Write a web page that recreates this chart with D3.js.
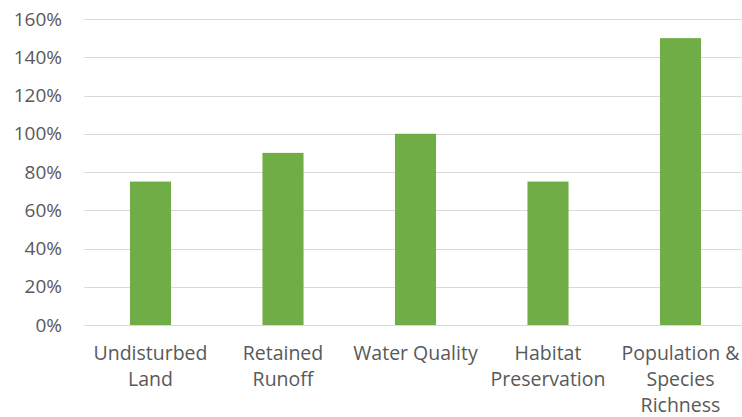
<!DOCTYPE html>
<html>
<head>
<meta charset="utf-8">
<script src="https://cdn.jsdelivr.net/npm/d3@7"></script>
<style>
  html, body { margin: 0; padding: 0; background: #fff; }
  svg { display: block; }
  text { font-family: "Open Sans", sans-serif; fill: #595959; }
</style>
</head>
<body>
<svg id="chart" width="742" height="417"></svg>
<script>
// Category names (line breaks mark where axis labels wrap)
const categories = [
  "Undisturbed\nLand",
  "Retained\nRunoff",
  "Water Quality",
  "Habitat\nPreservation",
  "Population &\nSpecies\nRichness"
];
// Values as fractions (1 = 100%)
const values = [0.75, 0.90, 1.00, 0.75, 1.50];
// Y-axis ticks
const yTicks = [0, 0.2, 0.4, 0.6, 0.8, 1.0, 1.2, 1.4, 1.6];

const svg = d3.select("#chart");
const margin = { left: 84.25, right: -4.75, top: 19, bottom: 92 };
const width = 742, height = 417;

const x = d3.scaleBand()
  .domain(categories)
  .range([margin.left, width - margin.right])
  .paddingInner(0.69)
  .paddingOuter(0.345);

const y = d3.scaleLinear()
  .domain([0, 1.6])
  .range([height - margin.bottom, margin.top]);

// Gridlines
svg.append("g")
  .selectAll("line")
  .data(yTicks)
  .join("line")
  .attr("x1", margin.left)
  .attr("x2", width)
  .attr("y1", d => Math.round(y(d)) + 0.5)
  .attr("y2", d => Math.round(y(d)) + 0.5)
  .attr("stroke", "#d9d9d9")
  .attr("stroke-width", 1);

// Y axis labels
const yAxis = d3.axisLeft(y)
  .tickValues(yTicks)
  .tickFormat(d3.format(".0%"))
  .tickSize(0)
  .tickPadding(0);
svg.append("g")
  .attr("transform", `translate(62,0)`)
  .call(yAxis)
  .call(g => g.select(".domain").remove())
  .call(g => g.selectAll("text")
    .attr("font-size", 19)
    .attr("font-family", "'Open Sans', sans-serif")
    .attr("fill", "#595959"));

// Bars
svg.append("g")
  .selectAll("rect")
  .data(categories.map((c, i) => ({ c, v: values[i] })))
  .join("rect")
  .attr("x", d => x(d.c))
  .attr("width", x.bandwidth())
  .attr("y", d => y(d.v))
  .attr("height", d => y(0) - y(d.v))
  .attr("fill", "#70ad47");

// X axis labels (wrapped)
const xl = svg.append("g");
categories.forEach(c => {
  const lines = c.split("\n");
  const t = xl.append("text")
    .attr("x", x(c) + x.bandwidth() / 2)
    .attr("y", 360)
    .attr("text-anchor", "middle")
    .attr("font-size", 19.5);
  lines.forEach((ln, i) => {
    t.append("tspan")
      .attr("x", x(c) + x.bandwidth() / 2)
      .attr("dy", i === 0 ? 0 : 26)
      .text(ln);
  });
});
</script>
</body>
</html>
